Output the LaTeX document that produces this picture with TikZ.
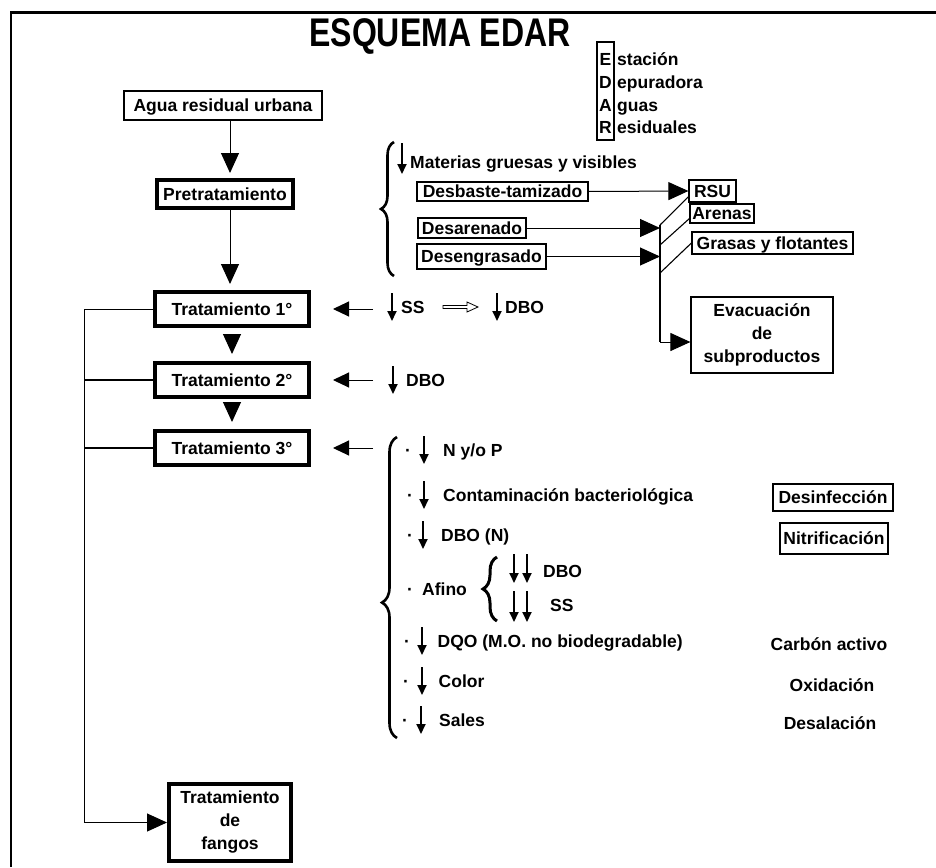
\documentclass[tikz,border=0pt]{standalone}
\usepackage{fontspec}
\setmainfont{Liberation Sans}
\usetikzlibrary{arrows.meta,decorations.pathreplacing,calc}
\begin{document}
\begin{tikzpicture}[x=1pt,y=-1pt,
  basetxt/.style={font=\fontsize{17.5}{23}\selectfont\bfseries, inner sep=0pt},
  txt/.style={basetxt, text height=12.6pt, text depth=0pt},
  thinbox/.style={txt, draw, line width=1.2pt},
  thickbox/.style={txt, draw, line width=4pt},
  thinmulti/.style={basetxt, draw, line width=1.2pt, align=center},
  thickmulti/.style={basetxt, draw, line width=4pt, align=center},
  bigarrow/.style={line width=1pt, -{Triangle[length=20pt,width=18pt]}},
  sidearrow/.style={line width=1pt, -{Triangle[length=16pt,width=15pt]}},
  dnarrow/.style={line width=1.8pt, -{Triangle[length=10pt,width=9pt]}},
  link/.style={line width=1.1pt},
  bracestyle/.style={line width=2.6pt, decorate},
]
\useasboundingbox (0,0) rectangle (936,867);
% frame
\draw[line width=2.5pt] (11,867) -- (11,12.5) -- (936,12.5);

% title and acronym
\node[txt, xscale=0.8, font=\fontsize{40}{40}\selectfont\bfseries, text height=28.6pt] (title) at (440,32) {ESQUEMA EDAR};
\node[draw, line width=1.2pt, minimum width=17pt, minimum height=98pt, inner sep=0pt] (edarbox) at (605.5,91) {};
\node[txt] (le) at (605.5,59) {E};
\node[txt] (ld) at (605.5,82) {D};
\node[txt] (la) at (605.5,105) {A};
\node[txt] (lr) at (605.5,127) {R};
\node[txt, anchor=west] (we) at (617,59) {stación};
\node[txt, anchor=west] (wd) at (617,82) {epuradora};
\node[txt, anchor=west] (wa) at (617,105) {guas};
\node[txt, anchor=west] (wr) at (617,127) {esiduales};

% main column
\node[thinbox, minimum width=198pt, minimum height=29pt] (agua) at (223,105.5) {Agua residual urbana};
\node[thickbox, minimum width=136pt, minimum height=28pt] (pre) at (225,194) {Pretratamiento};
\node[thickbox, minimum width=154pt, minimum height=34pt] (t1) at (232,309) {Tratamiento 1°};
\node[thickbox, minimum width=154pt, minimum height=34pt] (t2) at (232,380) {Tratamiento 2°};
\node[thickbox, minimum width=154pt, minimum height=34pt] (t3) at (232,448) {Tratamiento 3°};
\node[thickmulti, minimum width=122pt, minimum height=77pt] (fangos) at (230,822.5) {Tratamiento\\de\\fangos};

\coordinate (ax) at (230,0);
\coordinate (lx) at (84,0);
\draw[bigarrow, shorten >=5pt] (agua.south -| ax) -- (pre.north -| ax);
\draw[bigarrow, shorten >=6pt] (pre.south -| ax) -- (t1.north -| ax);
\draw[bigarrow, shorten <=7pt, shorten >=7pt] (t1.south) -- (t2.north);
\draw[bigarrow, shorten <=7pt, shorten >=7pt] (t2.south) -- (t3.north);
\draw[bigarrow] (t1.west) -- (t1.west -| lx) |- (fangos.west);
\draw[link] (t2.west) -- (t2.west -| lx);
\draw[link] (t3.west) -- (t3.west -| lx);

% arrows into treatment boxes
\draw[sidearrow] ($(t1.east)+(62,0)$) -- ($(t1.east)+(22,0)$);
\draw[sidearrow] ($(t2.east)+(62,0)$) -- ($(t2.east)+(22,0)$);
\draw[sidearrow] ($(t3.east)+(62,0)$) -- ($(t3.east)+(22,0)$);

% primary
\draw[dnarrow] (392,293) -- (392,321);
\node[txt, anchor=west] (ss1) at (401,307) {SS};
\draw[line width=0.8pt] (443,305.5) -- (467,305.5) -- (467,302) -- (478,307) -- (467,312) -- (467,308.5) -- (443,308.5) -- cycle;
\draw[dnarrow] (497,293) -- (497,321);
\node[txt, anchor=west] (dbo1) at (505,307) {DBO};
% secondary
\draw[dnarrow] (393,366) -- (393,394);
\node[txt, anchor=west] (dbo2) at (406,380) {DBO};

% pretreatment
\draw[bracestyle, decoration={brace, amplitude=13pt}] (394,276) -- (394,142);
\draw[dnarrow] (402,143) -- (402,174);
\node[txt, anchor=west] (mat) at (410,162) {Materias gruesas y visibles};
\node[thinbox, minimum width=171pt, minimum height=19pt] (desb) at (502.5,191.5) {Desbaste-tamizado};
\node[thinbox, minimum width=108pt, minimum height=20pt] (desar) at (472,228) {Desarenado};
\node[thinbox, minimum width=129pt, minimum height=25pt] (deseng) at (481.5,256.5) {Desengrasado};
\node[thinbox, minimum width=47pt, minimum height=22pt] (rsu) at (712.5,191) {RSU};
\node[thinbox, minimum width=64pt, minimum height=19pt] (arenas) at (722,213.5) {Arenas};
\node[thinbox, minimum width=161pt, minimum height=22pt] (grasas) at (772.5,243) {Grasas y flotantes};
\node[thinmulti, minimum width=142pt, minimum height=76pt] (evac) at (762,335) {Evacuación\\de\\subproductos};

\coordinate (c1) at (660,225);
\coordinate (c2) at (660,245);
\coordinate (c3) at (660,273);
\coordinate (cb) at (660,342);
\draw[bigarrow] (desb.east) -- (rsu.west);
\draw[bigarrow] (desar.east) -- (desar.east -| c1);
\draw[bigarrow] (deseng.east) -- (deseng.east -| c1);
\draw[link] (c1) -- (cb);
\draw[bigarrow] (cb) -- (cb -| evac.west);
\draw[link] (c1) -- ($(rsu.west)!0.5!(rsu.south west)$);
\draw[link] (c2) -- ($(arenas.west)!0.5!(arenas.south west)$);
\draw[link] (c3) -- (grasas.west);

% tertiary
\draw[bracestyle, decoration={brace, amplitude=15pt, aspect=0.45}] (397,738) -- (397,437);
\node[txt] (b1) at (408,450) {·};
\draw[dnarrow] (424,436) -- (424,464);
\node[txt, anchor=west] (r1) at (443,450) {N y/o P};
\node[txt] (b2) at (410,495) {·};
\draw[dnarrow] (424,481) -- (424,509);
\node[txt, anchor=west] (r2) at (443,495) {Contaminación bacteriológica};
\node[txt] (b3) at (410,535) {·};
\draw[dnarrow] (423,521) -- (423,549);
\node[txt, anchor=west] (r3) at (441,535) {DBO (N)};
\node[txt] (b4) at (410,589) {·};
\node[txt, anchor=west] (r4) at (422,589) {Afino};
\draw[line width=3pt, decorate, decoration={brace, amplitude=14pt}] (497,621) -- (497,557);
\draw[dnarrow] (514,554) -- (514,583);
\draw[dnarrow] (527,554) -- (527,583);
\node[txt, anchor=west] (r4a) at (543,571) {DBO};
\draw[dnarrow] (514,591) -- (514,622);
\draw[dnarrow] (527,591) -- (527,622);
\node[txt, anchor=west] (r4b) at (550,605) {SS};
\node[txt] (b5) at (407,641) {·};
\draw[dnarrow] (422,627) -- (422,655);
\node[txt, anchor=west] (r5) at (437.5,641) {DQO (M.O. no biodegradable)};
\node[txt] (b6) at (406,681) {·};
\draw[dnarrow] (422,667) -- (422,695);
\node[txt, anchor=west] (r6) at (438.5,681) {Color};
\node[txt] (b7) at (405,720) {·};
\draw[dnarrow] (421,706) -- (421,734);
\node[txt, anchor=west] (r7) at (439,720) {Sales};

% right column
\node[thinbox, minimum width=120pt, minimum height=27pt] (desinf) at (833,497.5) {Desinfección};
\node[thinbox, minimum width=108pt, minimum height=31pt] (nitri) at (834,538.5) {Nitrificación};
\node[txt] (carbon) at (829,644) {Carbón activo};
\node[txt] (oxid) at (832,685) {Oxidación};
\node[txt] (desal) at (830,723) {Desalación};
\end{tikzpicture}
\end{document}
